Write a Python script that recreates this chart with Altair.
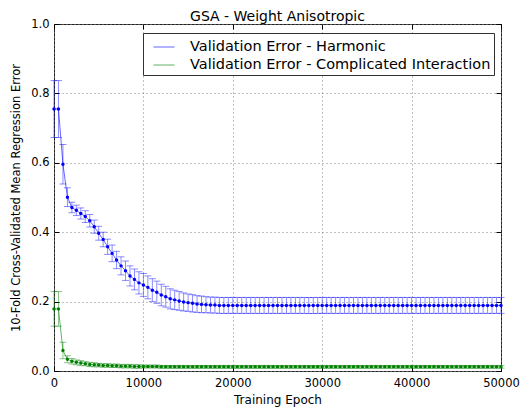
import altair as alt
import pandas as pd

# Training epochs at which the 10-fold validation error was recorded
epochs = list(range(0, 50001, 500))

# Harmonic potential: mean validation error and its spread
harmonic_mean = [
    0.755, 0.755, 0.596, 0.501, 0.471, 0.463, 0.454, 0.445, 0.433, 0.416,
    0.397, 0.379, 0.358, 0.339, 0.320, 0.303, 0.289, 0.274, 0.264, 0.254,
    0.248, 0.241, 0.233, 0.227, 0.219, 0.214, 0.208, 0.205, 0.202, 0.199,
    0.197, 0.195, 0.193, 0.192, 0.191, 0.190, 0.190, 0.189, 0.189, 0.189,
    0.189, 0.189, 0.189, 0.189, 0.189, 0.189, 0.189, 0.189, 0.189, 0.189,
    0.189, 0.189, 0.189, 0.189, 0.189, 0.189, 0.189, 0.189, 0.189, 0.189,
    0.189, 0.189, 0.189, 0.189, 0.189, 0.189, 0.189, 0.189, 0.189, 0.189,
    0.189, 0.189, 0.189, 0.189, 0.189, 0.189, 0.189, 0.189, 0.189, 0.189,
    0.189, 0.189, 0.189, 0.189, 0.189, 0.189, 0.189, 0.189, 0.189, 0.189,
    0.189, 0.189, 0.189, 0.189, 0.189, 0.189, 0.189, 0.189, 0.189, 0.189,
    0.189,
]
harmonic_err = [
    0.082, 0.082, 0.057, 0.027, 0.015, 0.015, 0.016, 0.017, 0.018, 0.019,
    0.020, 0.021, 0.022, 0.024, 0.025, 0.026, 0.028, 0.029, 0.030, 0.032,
    0.033, 0.033, 0.033, 0.032, 0.031, 0.030, 0.029, 0.028, 0.027, 0.026,
    0.025, 0.025, 0.024, 0.024, 0.023, 0.023, 0.023, 0.023, 0.023, 0.023,
    0.023, 0.023, 0.023, 0.023, 0.023, 0.023, 0.023, 0.023, 0.023, 0.023,
    0.023, 0.023, 0.023, 0.023, 0.023, 0.023, 0.023, 0.023, 0.023, 0.023,
    0.023, 0.023, 0.023, 0.023, 0.023, 0.023, 0.023, 0.023, 0.023, 0.023,
    0.023, 0.023, 0.023, 0.023, 0.023, 0.023, 0.023, 0.023, 0.023, 0.023,
    0.023, 0.023, 0.023, 0.023, 0.023, 0.023, 0.023, 0.023, 0.023, 0.023,
    0.023, 0.023, 0.023, 0.023, 0.023, 0.023, 0.023, 0.023, 0.023, 0.023,
    0.023,
]

# Complicated interaction potential: mean validation error and its spread
interaction_mean = [
    0.179, 0.179, 0.059, 0.034, 0.028, 0.025, 0.023, 0.021, 0.019, 0.018,
    0.017, 0.016, 0.016, 0.015, 0.015, 0.014, 0.014, 0.014, 0.013, 0.013,
    0.013, 0.013, 0.013, 0.013, 0.012, 0.012, 0.012, 0.012, 0.012, 0.012,
    0.012, 0.012, 0.012, 0.012, 0.012, 0.012, 0.012, 0.012, 0.012, 0.012,
    0.012, 0.012, 0.012, 0.012, 0.012, 0.012, 0.012, 0.012, 0.012, 0.012,
    0.012, 0.012, 0.012, 0.012, 0.012, 0.012, 0.012, 0.012, 0.012, 0.012,
    0.012, 0.012, 0.012, 0.012, 0.012, 0.012, 0.012, 0.012, 0.012, 0.012,
    0.012, 0.012, 0.012, 0.012, 0.012, 0.012, 0.012, 0.012, 0.012, 0.012,
    0.012, 0.012, 0.012, 0.012, 0.012, 0.012, 0.012, 0.012, 0.012, 0.012,
    0.012, 0.012, 0.012, 0.012, 0.012, 0.012, 0.012, 0.012, 0.012, 0.012,
    0.012,
]
interaction_err = [
    0.050, 0.050, 0.024, 0.010, 0.008, 0.007, 0.007, 0.006, 0.006, 0.006,
    0.005, 0.005, 0.005, 0.005, 0.005, 0.005, 0.005, 0.005, 0.005, 0.005,
    0.004, 0.004, 0.004, 0.004, 0.004, 0.004, 0.004, 0.004, 0.004, 0.004,
    0.004, 0.004, 0.004, 0.004, 0.004, 0.004, 0.004, 0.004, 0.004, 0.004,
    0.004, 0.004, 0.004, 0.004, 0.004, 0.004, 0.004, 0.004, 0.004, 0.004,
    0.004, 0.004, 0.004, 0.004, 0.004, 0.004, 0.004, 0.004, 0.004, 0.004,
    0.004, 0.004, 0.004, 0.004, 0.004, 0.004, 0.004, 0.004, 0.004, 0.004,
    0.004, 0.004, 0.004, 0.004, 0.004, 0.004, 0.004, 0.004, 0.004, 0.004,
    0.004, 0.004, 0.004, 0.004, 0.004, 0.004, 0.004, 0.004, 0.004, 0.004,
    0.004, 0.004, 0.004, 0.004, 0.004, 0.004, 0.004, 0.004, 0.004, 0.004,
    0.004,
]

series_names = [
    "Validation Error - Harmonic",
    "Validation Error - Complicated Interaction",
]
series_colors = ["#0000ff", "#008000"]

x_ticks = [0, 10000, 20000, 30000, 40000, 50000]
y_ticks = [0.0, 0.2, 0.4, 0.6, 0.8, 1.0]

rows = []
for name, means, errs in (
    (series_names[0], harmonic_mean, harmonic_err),
    (series_names[1], interaction_mean, interaction_err),
):
    for e, m, s in zip(epochs, means, errs):
        rows.append({"epoch": e, "series": name, "mean": m, "lo": m - s, "hi": m + s})
df = pd.DataFrame(rows)

FONT = "DejaVu Sans"

x_scale = alt.Scale(domain=[0, 50000], nice=False, zero=False)
y_scale = alt.Scale(domain=[0, 1], nice=False)
color_scale = alt.Scale(domain=series_names, range=series_colors)

base = alt.Chart(df)

# Main axes: labels, titles and dotted grid
x_main = alt.X(
    "epoch:Q", scale=x_scale, title="Training Epoch",
    axis=alt.Axis(values=x_ticks, format="d", grid=True, gridDash=[1, 3],
                  gridColor="#808080", gridWidth=1, tickSize=0, domain=False,
                  labelPadding=6, labelFontSize=11.5, titleFontSize=12,
                  titlePadding=6, labelFlush=False),
)
y_main = alt.Y(
    "mean:Q", scale=y_scale, title="10-Fold Cross-Validated Mean Regression Error",
    axis=alt.Axis(values=y_ticks, format=".1f", grid=True, gridDash=[1, 3],
                  gridColor="#808080", gridWidth=1, tickSize=0, domain=False,
                  labelPadding=5, labelFontSize=11.5, titleFontSize=11.5,
                  titlePadding=9, labelFlush=False),
)


def tick_axis(orient, values):
    # Inward-pointing tick marks drawn as an offset axis without labels
    return alt.Axis(orient=orient, offset=-5, tickSize=5, tickColor="black",
                    labels=False, domain=False, grid=False, values=values,
                    title="")


color_nolegend = alt.Color("series:N", scale=color_scale, legend=None)

errorbars = base.mark_errorbar(ticks=True, size=7, thickness=1, opacity=0.45).encode(
    x=alt.X("epoch:Q", scale=x_scale, axis=None),
    y=alt.Y("lo:Q", scale=y_scale, axis=None),
    y2="hi:Q",
    color=color_nolegend,
)

line = base.mark_line(strokeWidth=1, opacity=0.6).encode(
    x=x_main,
    y=y_main,
    color=alt.Color(
        "series:N", scale=color_scale, sort=series_names,
        legend=alt.Legend(
            orient="none", legendX=89, legendY=9, title=None,
            symbolType="stroke", symbolSize=441, symbolStrokeWidth=1,
            symbolOpacity=0.6, labelFont=FONT, labelFontSize=14.5,
            labelLimit=500, labelColor="black", strokeColor="#333333",
            fillColor="white", padding=3, rowPadding=0, labelOffset=15,
            symbolOffset=7, cornerRadius=0,
        ),
    ),
)

points = base.mark_circle(size=12, opacity=1).encode(
    x=alt.X("epoch:Q", scale=x_scale, axis=None),
    y=alt.Y("mean:Q", scale=y_scale, axis=None),
    color=color_nolegend,
)

ticks_bl = base.mark_point(opacity=0).encode(
    x=alt.X("epoch:Q", scale=x_scale, axis=tick_axis("bottom", x_ticks)),
    y=alt.Y("mean:Q", scale=y_scale, axis=tick_axis("left", y_ticks)),
)
ticks_tr = base.mark_point(opacity=0).encode(
    x=alt.X("epoch:Q", scale=x_scale, axis=tick_axis("top", x_ticks)),
    y=alt.Y("mean:Q", scale=y_scale, axis=tick_axis("right", y_ticks)),
)

chart = (
    alt.layer(line, errorbars, points, ticks_bl, ticks_tr)
    .resolve_axis(x="independent", y="independent")
    .properties(
        width=447,
        height=347,
        autosize="none",
        padding={"left": 54, "top": 24, "right": 23, "bottom": 37},
        title=alt.TitleParams("GSA - Weight Anisotropic", anchor="middle",
                              frame="group", font=FONT, fontSize=14,
                              fontWeight="normal", color="black", offset=3,
                              dy=9),
        background="white",
    )
    .configure_view(stroke="#222222", strokeWidth=1)
    .configure_axis(labelFont=FONT, titleFont=FONT, labelColor="black",
                    titleColor="black", titleFontWeight="normal")
)

chart.save("out.html", embed_options={"renderer": "svg", "actions": False})
